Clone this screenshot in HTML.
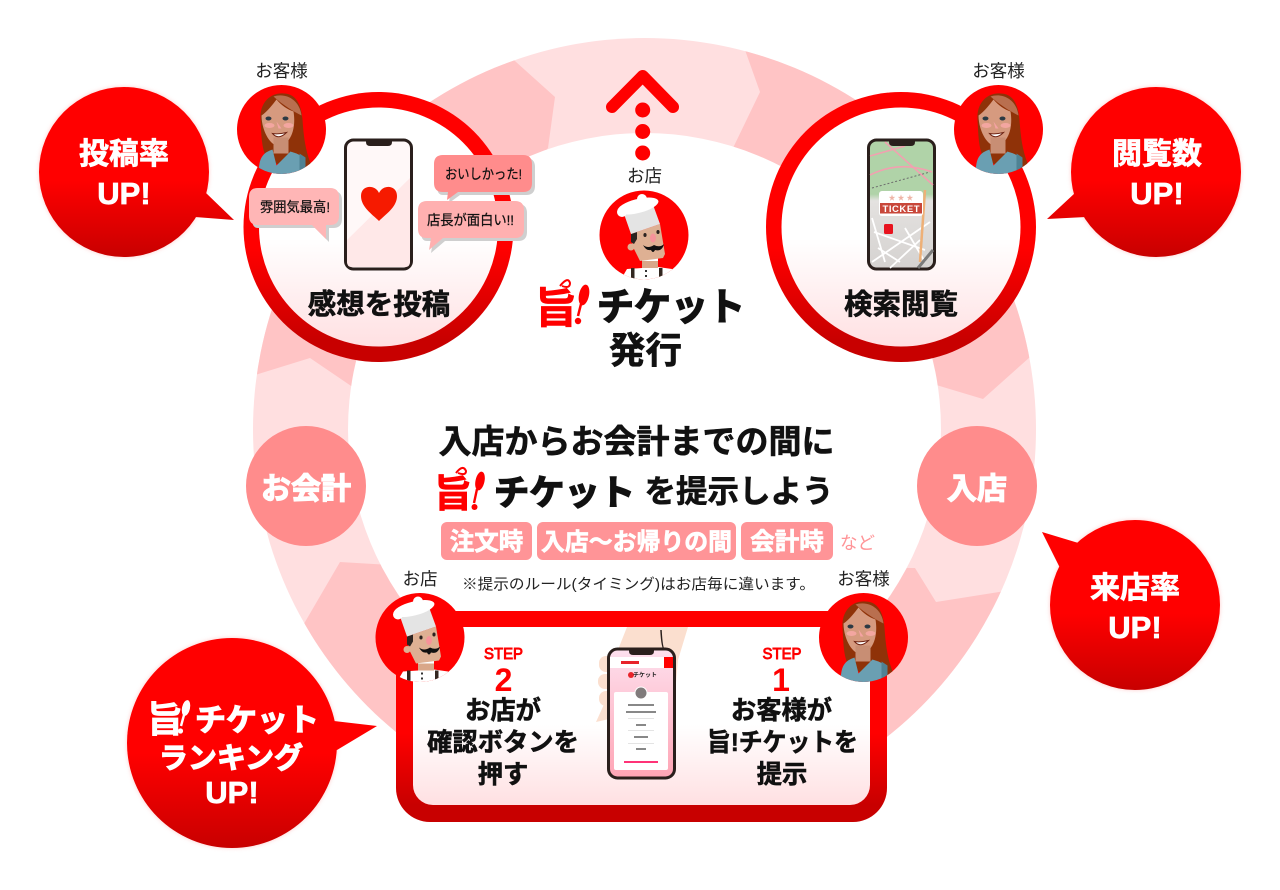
<!DOCTYPE html>
<html lang="ja"><head><meta charset="utf-8"><title>旨!チケット</title>
<style>
html,body{margin:0;padding:0;background:#fff}
svg{display:block}
text{font-family:"Liberation Sans","Noto Sans CJK JP",sans-serif;text-anchor:middle}
.j{font-family:"Noto Sans CJK JP",sans-serif}
.b{font-weight:700}
.k{stroke:#111;stroke-width:.6}
.kk{stroke:#111;stroke-width:1.5}
.w{stroke:#fff;stroke-width:.7}
.ww{stroke:#fff;stroke-width:1.2}
.r{stroke:#f00;stroke-width:.9}
.t{stroke:#111;stroke-width:.25}
</style></head><body>
<svg width="1280" height="890" viewBox="0 0 1280 890" xmlns="http://www.w3.org/2000/svg">
<defs>
<linearGradient id="rg" x1="0" y1="0" x2="0" y2="1"><stop offset=".58" stop-color="#f00"/><stop offset=".92" stop-color="#c80000"/></linearGradient>
<linearGradient id="wg" x1="0" y1="0" x2="0" y2="1"><stop offset=".55" stop-color="#fff"/><stop offset="1" stop-color="#ffe0e2"/></linearGradient>
<linearGradient id="cg" x1="0" y1="0" x2="0" y2="1"><stop offset=".55" stop-color="#f00"/><stop offset="1" stop-color="#c80000"/></linearGradient>
<linearGradient id="pg" x1="0" y1="0" x2="0" y2="1"><stop offset="0" stop-color="#fde0ee"/><stop offset="1" stop-color="#ffa5b5"/></linearGradient>
<linearGradient id="mapg" x1="0" y1="0" x2="0" y2="1"><stop offset=".42" stop-color="#b0d3a8"/><stop offset=".47" stop-color="#e4e2e0"/><stop offset="1" stop-color="#d5d2d0"/></linearGradient>
<filter id="glow" x="-10%" y="-10%" width="120%" height="120%"><feGaussianBlur stdDeviation="2"/></filter>
<clipPath id="ringc"><circle cx="644.5" cy="429.5" r="391.5"/></clipPath>
<clipPath id="av"><circle cx="0" cy="0" r="44.5"/></clipPath>
<g id="woman">
 <circle r="44.5" fill="#f00"/>
 <g clip-path="url(#av)">
  <path d="M-21 -10C-22 -28 -10 -37 2 -36C16 -36 20 -22 21 -10C22 6 24 24 31 38L20 45L-14 30C-20 20 -20 8 -21 -10Z" fill="#8f3208"/>
  <path d="M-8 -33C4 -37 18 -30 20 -14C12 -18 2 -24 -8 -33Z" fill="#b96f4f"/>
  <path d="M-20 -14C-14 -18 -8 -26 -5 -30C0 -24 6 -20 12 -18C14 -6 12 6 5 13C0 17 -6 17 -10 13C-16 7 -20 -4 -20 -14Z" fill="#d69a7f"/>
  <rect x="-8" y="8" width="15" height="16" fill="#c88e74"/>
  <ellipse cx="-12" cy="-4" rx="5" ry="2.5" fill="#f3a6a0"/><ellipse cx="7" cy="-4" rx="5" ry="2.5" fill="#f3a6a0"/>
  <ellipse cx="-13" cy="-11" rx="3" ry="2" fill="#2c3a44"/><ellipse cx="4" cy="-11" rx="3" ry="2" fill="#2c3a44"/>
  <path d="M-5 -8L-3 -1L0 -1Z" fill="#f5a3a3"/>
  <path d="M-9 4Q-3 11 5 3Q-3 5 -9 4Z" fill="#fff" stroke="#6e2414" stroke-width="1"/>
  <path d="M-22 34C-20 24 -14 22 -9 20L-5 36L9 22C14 24 20 24 22 32L22 46L-24 46Z" fill="#6a9fb2"/>
  <path d="M18 24L24 28L24 40L18 44Z" fill="#4f8293"/>
 </g>
</g>
<g id="chef">
 <circle r="44.5" fill="#f00"/>
 <g clip-path="url(#av)">
  <path d="M-24 46L-17 34L-2 33L-2 24L14 22L14 32L28 34L36 46Z" fill="#fff"/>
  <rect x="-13" y="33" width="3.5" height="14" fill="#33261f"/><rect x="15" y="33" width="3.5" height="14" fill="#33261f"/>
  <rect x="-2" y="26" width="16" height="7" fill="#d9a789"/>
  <rect x="1" y="35" width="2" height="2" fill="#333"/><rect x="1" y="40" width="2" height="2" fill="#333"/>
  <circle cx="-13" cy="12" r="3.5" fill="#deb093"/>
  <path d="M-13 -1L16 -11L21 19L19 23L-4 26L-11 12Z" fill="#deb093"/>
  <path d="M-13 -1L-7 -3L-7 4L-10 9L-13 7Z" fill="#2c2320"/>
  <path d="M-20 -21L8 -33L16 -11L-13 -1Z" fill="#e4e4e4"/>
  <ellipse cx="-6" cy="-29" rx="21" ry="7" fill="#fff" transform="rotate(-14 -6 -29)"/>
  <circle cx="-22" cy="-23" r="5" fill="#fff"/><circle cx="-2" cy="-36" r="5" fill="#fff"/>
  <ellipse cx="1" cy="0" rx="1.6" ry="2" fill="#2c2320"/><ellipse cx="14" cy="-3" rx="1.6" ry="2" fill="#2c2320"/>
  <ellipse cx="9" cy="3" rx="3" ry="4.5" fill="#f6939a"/>
  <path d="M-1 10Q4 14 10 10Q16 13 20 9Q18 17 11 15Q9 19 7 15Q2 16 -1 10Z" fill="#111"/>
 </g>
</g>
</defs>

<!-- ring -->
<g clip-path="url(#ringc)">
 <rect x="240" y="30" width="810" height="810" fill="#ffdfe0"/>
 <polygon points="200,392 310,358 360,392 548,148 555,97 505,52 400,0 100,100" fill="#ffc4c5"/>
 <polygon points="745,50 740,20 1100,0 1100,300 1030,357 983,399 933,384 733,148 760,92" fill="#ffc4c5"/>
 <polygon points="1060,582 999,592 936,602 915,568 390,565 340,562 305,622 240,730 640,900 1050,720" fill="#ffc4c5"/>
</g>
<circle cx="644.5" cy="429.5" r="296.5" fill="#fff"/>

<!-- top arrow -->
<path d="M612 107L642.7 76L673 107" fill="none" stroke="#f00" stroke-width="12" stroke-linecap="round" stroke-linejoin="round"/>
<circle cx="642.7" cy="110" r="7.5" fill="#f00"/><circle cx="642.7" cy="131.5" r="7.5" fill="#f00"/><circle cx="642.7" cy="153" r="7.5" fill="#f00"/>

<!-- pink circles -->
<circle cx="306" cy="486" r="60" fill="#ff8c8c"/>
<circle cx="977" cy="486" r="60" fill="#ff8c8c"/>
<text x="306" y="499" font-size="30" class="b ww" fill="#fff">お会計</text>
<text x="977" y="499" font-size="30" class="b ww" fill="#fff">入店</text>

<!-- callouts -->
<g fill="#ffb5b5" filter="url(#glow)" opacity=".7">
 <circle cx="124" cy="172" r="85"/><circle cx="1156" cy="172" r="85"/><circle cx="1135" cy="605" r="85"/><circle cx="232" cy="743" r="105"/>
</g>
<path d="M39 172a85 85 0 1 1 170 0a85 85 0 1 1 -170 0Z M206 193L234 220L195 217L170 190Z" fill="url(#cg)"/>
<path d="M1241 172a85 85 0 1 0 -170 0a85 85 0 1 0 170 0Z M1075 193L1047 219L1086 217L1110 190Z" fill="url(#cg)"/>
<path d="M1050 605a85 85 0 1 1 170 0a85 85 0 1 1 -170 0Z M1042 532L1085 545L1110 590L1062 572Z" fill="url(#cg)"/>
<path d="M127 743a105 105 0 1 1 210 0a105 105 0 1 1 -210 0Z M334 721L377 726L337 750L300 735Z" fill="url(#cg)"/>
<text x="124" y="164" font-size="30" class="b w" fill="#fff">投稿率</text>
<text x="124" y="204" font-size="31" class="b w" fill="#fff">UP!</text>
<text x="1157" y="164" font-size="30" class="b w" fill="#fff">閲覧数</text>
<text x="1157" y="204" font-size="31" class="b w" fill="#fff">UP!</text>
<text x="1135" y="598" font-size="30" class="b w" fill="#fff">来店率</text>
<text x="1135" y="638" font-size="31" class="b w" fill="#fff">UP!</text>
<text x="165" y="732" font-size="36" class="b j w" fill="#fff">旨</text>
<ellipse cx="186" cy="708" rx="4" ry="8" fill="#fff" transform="rotate(12 186 708)"/>
<path d="M184 715L181 726" stroke="#fff" stroke-width="2.4"/><circle cx="180.5" cy="731" r="2.6" fill="#fff"/>
<text x="257" y="731" font-size="31" class="b ww" fill="#fff" textLength="124" lengthAdjust="spacingAndGlyphs">チケット</text>
<text x="231" y="768" font-size="29" class="b ww" fill="#fff">ランキング</text>
<text x="232" y="803" font-size="31" class="b w" fill="#fff">UP!</text>

<!-- left big circle -->
<circle cx="378.5" cy="227" r="135" fill="url(#rg)"/>
<circle cx="378.5" cy="227" r="119.5" fill="url(#wg)"/>
<use href="#woman" x="281.5" y="129.5"/>
<text x="281.5" y="77" font-size="17.5" fill="#222">お客様</text>
<rect x="345.5" y="140" width="66" height="129" rx="8" fill="#fff8f8" stroke="#2a1f1c" stroke-width="3"/>
<path d="M347 240L410 178V262Q410 267 405 267H352Q347 267 347 262Z" fill="#ffe8e8"/>
<path d="M366 139.5H392V142Q392 146 388 146H370Q366 146 366 142Z" fill="#2a1f1c"/>
<path d="M379 221C372 214 361 207 361 196C361 185 375 184 379 193C383 184 397 185 397 196C397 207 386 214 379 221Z" fill="#f61a00"/>
<!-- bubbles -->
<path d="M258 191H333Q342 191 342 200V219Q342 228 333 228H329L329 242L315 228H258Q252 228 252 219V200Q252 191 258 191Z" fill="#cfcfcf"/>
<path d="M258 188H330Q339 188 339 197V216Q339 225 330 225H326L326 239L312 225H258Q249 225 249 216V197Q249 188 258 188Z" fill="#ffb6b6"/>
<text x="295" y="212" font-size="14" class="t" fill="#111" textLength="70" lengthAdjust="spacingAndGlyphs">雰囲気最高!</text>
<path d="M443 158H526Q535 158 535 167V186Q535 195 526 195H460L449 203L450 195H443Q437 195 437 186V167Q437 158 443 158Z" fill="#cfcfcf"/>
<path d="M443 155H523Q532 155 532 164V183Q532 192 523 192H458L447 200L448 192H443Q434 192 434 183V164Q434 155 443 155Z" fill="#ff8c8c"/>
<text x="483.5" y="179" font-size="14" class="t" fill="#111" textLength="77" lengthAdjust="spacingAndGlyphs">おいしかった!</text>
<path d="M427 204H518Q527 204 527 213V232Q527 241 518 241H445L431 253L433 241H427Q421 241 421 232V213Q421 204 427 204Z" fill="#cfcfcf"/>
<path d="M427 201H515Q524 201 524 210V229Q524 238 515 238H443L429 250L431 238H427Q418 238 418 229V210Q418 201 427 201Z" fill="#ffb0b0"/>
<text x="470.5" y="225" font-size="14" class="t" fill="#111" textLength="87" lengthAdjust="spacingAndGlyphs">店長が面白い!!</text>
<text x="379" y="314" font-size="28.5" class="b k" fill="#111">感想を投稿</text>

<!-- right big circle -->
<circle cx="901" cy="227" r="135" fill="url(#rg)"/>
<circle cx="901" cy="227" r="119.5" fill="url(#wg)"/>
<use href="#woman" x="998.5" y="129.5"/>
<text x="998.5" y="77" font-size="17.5" fill="#222">お客様</text>
<rect x="868.5" y="140" width="66" height="129" rx="8" fill="url(#mapg)" stroke="#2a1f1c" stroke-width="3"/>
<path d="M870 156L905 146M870 175Q900 160 932 172M885 142L933 185" stroke="#f2a0b0" stroke-width="1.6" fill="none"/>
<path d="M872 188L930 172" stroke="#6c6c6c" stroke-width="1" stroke-dasharray="2 2"/>
<path d="M872 262L930 222M890 268L920 240M874 232L925 250M878 248L900 262M905 228L925 262M872 218L885 262" stroke="#fff" stroke-width="1.8" fill="none"/>
<path d="M925 190L920 262" stroke="#eeb077" stroke-width="2.5" fill="none"/>
<path d="M918 268L933 250" stroke="#7a7a7a" stroke-width="3" fill="none"/>
<path d="M889 139.5H915V142Q915 146 911 146H893Q889 146 889 142Z" fill="#2a1f1c"/>
<rect x="879" y="191" width="44" height="25" rx="3" fill="#fff"/>
<rect x="880" y="203" width="42" height="10.5" fill="#c8473a"/>
<text x="901" y="212" font-size="9.5" class="b" fill="#fff" textLength="37" lengthAdjust="spacing">TICKET</text>
<text x="901" y="200" font-size="7" fill="#efb5a7">★ ★ ★</text>
<rect x="884" y="224" width="9" height="10" rx="1.5" fill="#e8131e"/>
<text x="901" y="314" font-size="28.5" class="b k" fill="#111">検索閲覧</text>

<!-- center top -->
<text x="644.5" y="182" font-size="17.5" fill="#222">お店</text>
<use href="#chef" x="644" y="235"/>
<text x="556" y="323" font-size="42" class="b j" fill="#f00" stroke="#f00" stroke-width=".8">旨</text>
<path d="M560 286Q568 276 570 283Q570 289 562 286" fill="none" stroke="#f00" stroke-width="2"/>
<ellipse cx="584" cy="295" rx="5" ry="10.5" fill="#f00" transform="rotate(12 584 295)"/>
<path d="M581 304L578 316" stroke="#f00" stroke-width="2.5"/>
<circle cx="578" cy="321" r="3.2" fill="#f00"/>
<text x="671" y="320" font-size="38" class="b kk" fill="#111" textLength="148" lengthAdjust="spacingAndGlyphs">チケット</text>
<text x="645.5" y="363" font-size="36.5" class="b k" fill="#111">発行</text>

<!-- center title -->
<text x="636.5" y="453" font-size="33" class="b k" fill="#111">入店からお会計までの間に</text>
<text x="453" y="507" font-size="38" class="b j" fill="#f00" stroke="#f00" stroke-width=".8">旨</text>
<path d="M456 473Q463 464 466 471Q466 476 458 473" fill="none" stroke="#f00" stroke-width="2"/>
<ellipse cx="480" cy="481" rx="4.5" ry="9.5" fill="#f00" transform="rotate(12 480 481)"/>
<path d="M477 489L474 503" stroke="#f00" stroke-width="2.4"/>
<circle cx="474.5" cy="507" r="3" fill="#f00"/>
<text x="564.5" y="505" font-size="35" class="b kk" fill="#111" textLength="141" lengthAdjust="spacingAndGlyphs">チケット</text>
<text x="739" y="502" font-size="31.5" class="b k" fill="#111">を提示しよう</text>

<!-- tags -->
<rect x="441" y="522" width="91" height="38" rx="6" fill="#ff9497"/>
<rect x="537" y="522" width="199" height="38" rx="6" fill="#ff9497"/>
<rect x="741" y="522" width="92" height="38" rx="6" fill="#ff9497"/>
<text x="486.5" y="550" font-size="24.5" class="b w" fill="#fff">注文時</text>
<text x="636.5" y="550" font-size="24" class="b w" fill="#fff" textLength="191" lengthAdjust="spacingAndGlyphs">入店～お帰りの間</text>
<text x="787" y="550" font-size="24.5" class="b w" fill="#fff">会計時</text>
<text x="857.5" y="549" font-size="17.5" fill="#ff9497">など</text>
<text x="638.5" y="589" font-size="15" fill="#222" textLength="353" lengthAdjust="spacingAndGlyphs">※提示のルール(タイミング)はお店毎に違います。</text>

<!-- bottom box -->
<rect x="396" y="611" width="491" height="211" rx="34" fill="url(#rg)"/>
<rect x="413" y="627" width="457" height="178" rx="20" fill="url(#wg)"/>
<!-- hand -->
<path d="M627 627H688L678 660L674 705L640 712L596 722L606 700L610 670Z" fill="#fbdfcf"/>
<rect x="599" y="656" width="18" height="16" rx="7" fill="#fbdfcf"/>
<rect x="598" y="674" width="18" height="15" rx="7" fill="#fbdfcf"/>
<rect x="599" y="691" width="18" height="15" rx="7" fill="#fbdfcf"/>
<path d="M661 630Q662 650 665 650" fill="none" stroke="#2a1f1c" stroke-width="1.5"/>
<rect x="608.5" y="649" width="66" height="129" rx="9" fill="url(#pg)" stroke="#2a1f1c" stroke-width="3"/>
<rect x="610" y="657" width="63" height="11" fill="#fff"/>
<rect x="664" y="657" width="9" height="11" fill="#f00"/>
<rect x="621" y="661" width="18" height="3" fill="#e8232a"/>
<path d="M629 648.5H654V651Q654 655 650 655H633Q629 655 629 651Z" fill="#2a1f1c"/>
<circle cx="631" cy="675" r="3" fill="#e8232a"/>
<text x="645" y="677" font-size="6" class="b" fill="#222">チケット</text>
<rect x="614" y="692" width="54" height="78" rx="2" fill="#fff"/>
<circle cx="641" cy="693" r="6" fill="#807b7b" stroke="#fff" stroke-width="1"/>
<g fill="#888"><rect x="628" y="704" width="26" height="2"/><rect x="626" y="711" width="30" height="2"/><rect x="636" y="724" width="10" height="2"/><rect x="634" y="736" width="14" height="2"/><rect x="636" y="748" width="10" height="2"/></g>
<g fill="#ddd"><rect x="628" y="718" width="26" height=".8"/><rect x="628" y="730" width="26" height=".8"/><rect x="628" y="743" width="26" height=".8"/></g>
<rect x="624" y="761" width="34" height="2" fill="#f37"/>

<text x="503.5" y="659" font-size="16" class="r" fill="#f00" textLength="39" lengthAdjust="spacingAndGlyphs">STEP</text>
<text x="503.5" y="691" font-size="32" class="b" fill="#f00">2</text>
<text x="503" y="719" font-size="25.3" class="b k" fill="#111">お店が</text>
<text x="503" y="751" font-size="25.3" class="b k" fill="#111">確認ボタンを</text>
<text x="503" y="783" font-size="25.3" class="b k" fill="#111">押す</text>
<text x="782" y="659" font-size="16" class="r" fill="#f00" textLength="39" lengthAdjust="spacingAndGlyphs">STEP</text>
<text x="781" y="691" font-size="32" class="b" fill="#f00">1</text>
<text x="781.5" y="719" font-size="25.3" class="b k" fill="#111">お客様が</text>
<text x="782.5" y="751" font-size="25.3" class="b k" fill="#111" textLength="151" lengthAdjust="spacingAndGlyphs">旨!チケットを</text>
<text x="782" y="783" font-size="25.3" class="b k" fill="#111">提示</text>

<use href="#chef" x="420" y="637.5"/>
<use href="#woman" x="863.5" y="637.5"/>
<text x="420" y="585" font-size="17.5" fill="#222">お店</text>
<text x="863.5" y="585" font-size="17.5" fill="#222">お客様</text>
</svg>
</body></html>
